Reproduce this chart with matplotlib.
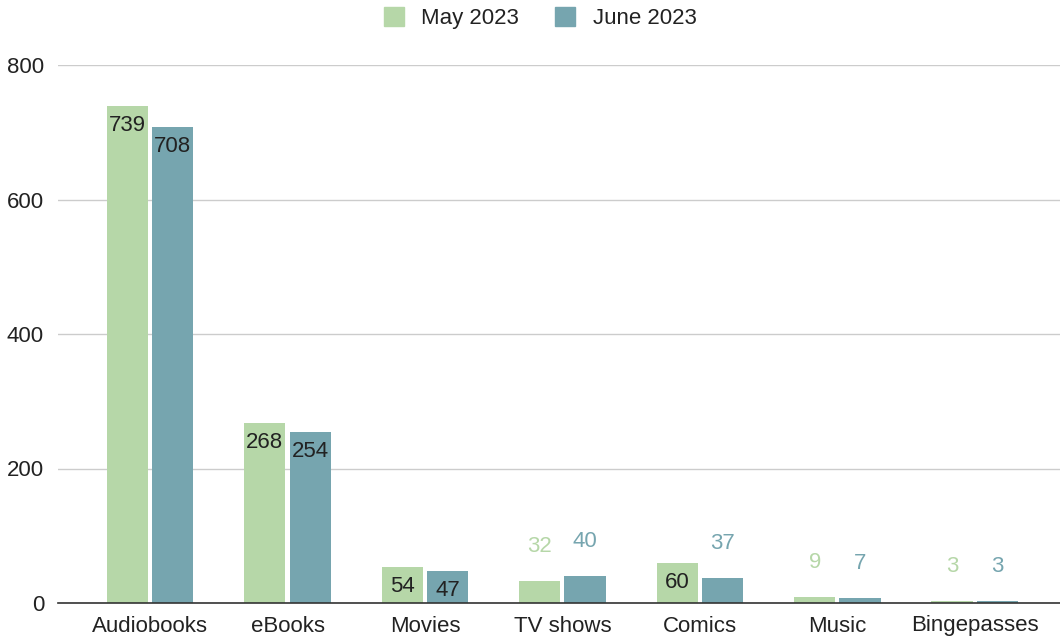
import matplotlib.pyplot as plt
import numpy as np

plt.rcParams['font.family'] = ['Liberation Sans', 'DejaVu Sans']

categories = ["Audiobooks", "eBooks", "Movies", "TV shows", "Comics", "Music", "Bingepasses"]
may_2023 = [739, 268, 54, 32, 60, 9, 3]
june_2023 = [708, 254, 47, 40, 37, 7, 3]
series_names = ["May 2023", "June 2023"]
colors = ["#b6d7a8", "#76a5af"]

fig = plt.figure(figsize=(10.6, 6.39), dpi=100)
ax = fig.add_axes([58 / 1060, 36 / 639, 1 - 58 / 1060, (603 - 65) / 639])

x = np.arange(len(categories))
w = 0.3
gap = 0.015
for vals, off, c in [(may_2023, -w / 2 - gap, colors[0]), (june_2023, w / 2 + gap, colors[1])]:
    bars = ax.bar(x + off, vals, width=w, color=c, zorder=3)
    for b, v in zip(bars, vals):
        cx = b.get_x() + b.get_width() / 2
        if v >= 45:
            # big enough: label sits inside near the top
            ax.annotate(str(v), (cx, v), xytext=(0, -14), textcoords="offset points",
                        ha="center", va="center", fontsize=16, color="#222222", zorder=4)
        else:
            ax.annotate(str(v), (cx, v), xytext=(0, 25), textcoords="offset points",
                        ha="center", va="center", fontsize=16, color=c, zorder=4)

ax.set_xlim(-0.67, 6.62)
ax.set_ylim(0, 800)
ax.set_yticks([0, 200, 400, 600, 800])
ax.set_xticks(x)
ax.set_xticklabels(categories)
ax.tick_params(axis="both", length=0, labelsize=16, colors="#222222")
ax.tick_params(axis="x", pad=9)
ax.tick_params(axis="y", pad=10)
ax.yaxis.grid(True, color="#cccccc", linewidth=1, zorder=0)
for s in ["top", "right", "left"]:
    ax.spines[s].set_visible(False)
ax.spines["bottom"].set_color("#333333")
ax.spines["bottom"].set_zorder(5)
ax.spines["bottom"].set_linewidth(1.2)

handles = [plt.Rectangle((0, 0), 1, 1, color=c) for c in colors]
fig.legend(handles, series_names, loc="center", bbox_to_anchor=(540 / 1060, 1 - 18 / 639),
           ncol=2, frameon=False, fontsize=16, handlelength=0.9, handleheight=0.9,
           handletextpad=0.8, columnspacing=1.6, labelcolor="#222222")

fig.savefig("out.png", dpi=100)
